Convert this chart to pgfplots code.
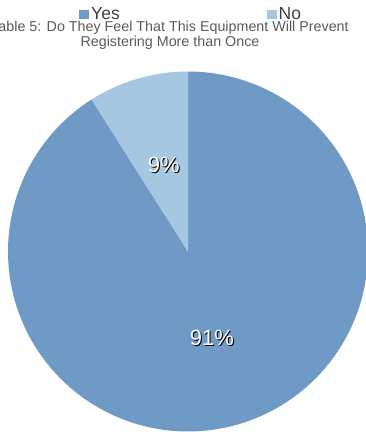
\documentclass[border=0pt]{standalone}
\usepackage{pgfplots}
\pgfplotsset{compat=1.18}
\usepackage{pgfplotstable}
\usepackage{fontspec}
\setmainfont{Liberation Sans}
\definecolor{yescol}{HTML}{6F9AC5}
\definecolor{nocol}{HTML}{A6C7E2}
\definecolor{titlecol}{HTML}{595959}
\definecolor{legcol}{HTML}{404040}

\pgfplotstableread{
label value
Yes 91
No 9
}\piedata

\begin{document}
\begin{tikzpicture}
\pgfplotstablegetelem{0}{value}\of\piedata \edef\vyes{\pgfplotsretval}%
\pgfplotstablegetelem{1}{value}\of\piedata \edef\vno{\pgfplotsretval}%
\pgfmathsetmacro{\fyes}{\vyes/(\vyes+\vno)}%
\pgfmathsetmacro{\fno}{\vno/(\vyes+\vno)}%
\pgfmathsetmacro{\astartyes}{90-360*\fyes}%
\pgfmathsetmacro{\aendno}{90+360*\fno}%
\path[use as bounding box] (0,0) rectangle (366pt,432pt);
\begin{axis}[at={(0,0)}, anchor=south west,
  scale only axis, width=366pt, height=432pt,
  xmin=0, xmax=366, ymin=0, ymax=432, hide axis,
  legend columns=2,
  legend cell align=left,
  legend style={draw=none, fill=none, at={(axis cs:79,417.5)}, anchor=west,
    font=\fontsize{17.5}{20}\selectfont, text=legcol, inner sep=0pt,
    /tikz/every even column/.append style={column sep=145pt},
    /tikz/every odd column/.append style={column sep=0pt}},
  ]
\addplot[fill=yescol, draw=none, domain=\astartyes:90, samples=300,
  legend image code/.code={\fill[yescol] (0pt,-4.5pt) rectangle (10pt,4.5pt);}]
  ({188+180*cos(x)},{180.5+180*sin(x)}) -- (axis cs:188,180.5) -- cycle;
\addlegendentry{Yes}
\addplot[fill=nocol, draw=none, domain=90:\aendno, samples=60,
  legend image code/.code={\fill[nocol] (0pt,-4.5pt) rectangle (10pt,4.5pt);}]
  ({188+180*cos(x)},{180.5+180*sin(x)}) -- (axis cs:188,180.5) -- cycle;
\addlegendentry{No}
\node[anchor=base, font=\fontsize{14.3}{16}\selectfont, text=titlecol] at (axis cs:170,400) {Table 5: Do They Feel That This Equipment Will Prevent};
\node[anchor=base, font=\fontsize{14.3}{16}\selectfont, text=titlecol] at (axis cs:170,385.3) {Registering More than Once};
\node[font=\fontsize{22}{24}\selectfont, text=black] at (axis cs:164.8,265.8) {9\%};
\node[font=\fontsize{22}{24}\selectfont, text=white] at (axis cs:163.8,266.8) {9\%};
\node[font=\fontsize{22}{24}\selectfont, text=black] at (axis cs:213,93) {91\%};
\node[font=\fontsize{22}{24}\selectfont, text=white] at (axis cs:212,94) {91\%};
\end{axis}
\end{tikzpicture}
\end{document}
